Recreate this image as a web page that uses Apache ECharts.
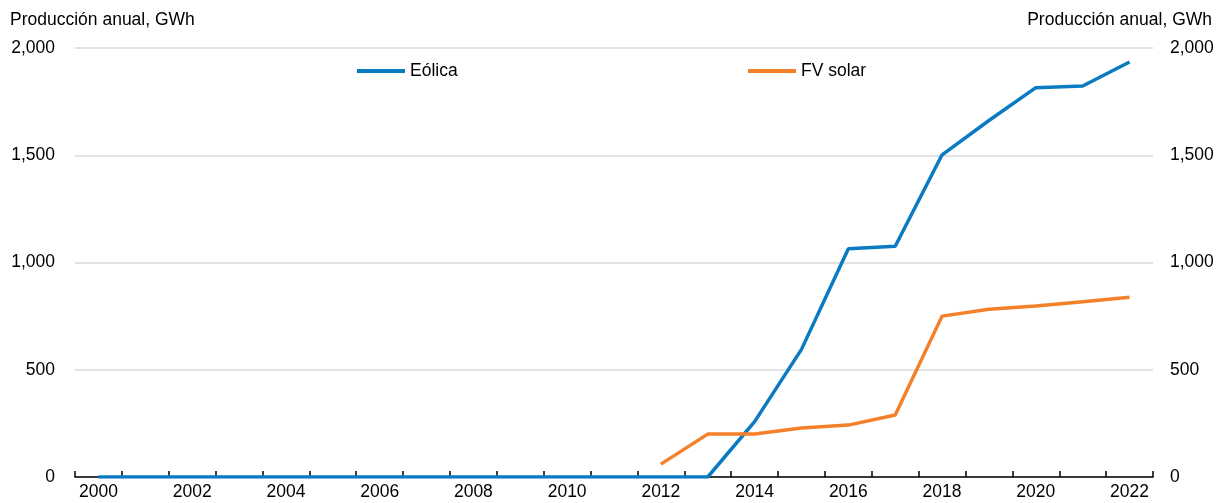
<!DOCTYPE html>
<html>
<head>
<meta charset="utf-8">
<script src="https://cdn.jsdelivr.net/npm/echarts@6/dist/echarts.min.js"></script>
<style>
  html, body { margin: 0; padding: 0; background: #fff; }
  #chart { width: 1218px; height: 503px; }
</style>
</head>
<body>
<div id="chart"></div>
<script>
// Años de la serie
const years = ['2000','2001','2002','2003','2004','2005','2006','2007','2008','2009','2010','2011',
               '2012','2013','2014','2015','2016','2017','2018','2019','2020','2021','2022'];
// Producción anual eólica, GWh
const eolica = [0,0,0,0,0,0,0,0,0,0,0,0,0,0,258,595,1064,1076,1502,1662,1815,1823,1935];
// Producción anual FV solar, GWh (sin datos antes de 2012)
const fvSolar = [null,null,null,null,null,null,null,null,null,null,null,null,
                 60,200,200,228,242,289,750,782,797,817,838];
// Marcas del eje de valores
const yTicks = [0, 500, 1000, 1500, 2000];

const axisTitle = 'Producción anual, GWh';
const font = '"Liberation Sans", Arial, sans-serif';
const FS = 17.5;
const BLUE = '#0a7bc2';
const ORANGE = '#f5802a';
const lineIcon = 'path://M0,0 L48,0 L48,4 L0,4 Z';

const chart = echarts.init(document.getElementById('chart'));

const yCommon = {
  type: 'value',
  min: yTicks[0],
  max: yTicks[yTicks.length - 1],
  interval: 500,
  axisLine: { show: false },
  axisTick: { show: false },
  nameLocation: 'end',
  nameGap: 19,
  nameTextStyle: { fontFamily: font, fontSize: FS, color: '#000' },
  axisLabel: {
    fontFamily: font, fontSize: FS, color: '#000',
    formatter: v => v.toLocaleString('en-US')
  }
};

const legendCommon = {
  top: 57, itemWidth: 48, itemHeight: 4, itemGap: 6,
  icon: lineIcon,
  textStyle: { fontFamily: font, fontSize: FS, color: '#000' }
};

chart.setOption({
  animation: false,
  grid: { left: 75, right: 65, top: 48, bottom: 26, containLabel: false, outerBoundsMode: 'none' },
  legend: [
    Object.assign({}, legendCommon, { data: ['Eólica'], left: 352 }),
    Object.assign({}, legendCommon, { data: ['FV solar'], left: 743 })
  ],
  xAxis: {
    type: 'category',
    data: years,
    boundaryGap: true,
    axisLine: { lineStyle: { color: '#000', width: 1.5 } },
    axisTick: { show: true, inside: true, length: 6, interval: 0, lineStyle: { color: '#000', width: 1.5 } },
    axisLabel: { interval: 1, fontFamily: font, fontSize: FS, color: '#000', margin: 6 },
    splitLine: { show: false }
  },
  yAxis: [
    Object.assign({}, yCommon, {
      position: 'left',
      name: axisTitle,
      nameTextStyle: Object.assign({}, yCommon.nameTextStyle, { align: 'left', padding: [0, 0, 0, -65] }),
      axisLabel: Object.assign({}, yCommon.axisLabel, { margin: 20 }),
      splitLine: { show: true, lineStyle: { color: '#d9d9d9', width: 1.5 } }
    }),
    Object.assign({}, yCommon, {
      position: 'right',
      name: axisTitle,
      nameTextStyle: Object.assign({}, yCommon.nameTextStyle, { align: 'right', padding: [0, -59, 0, 0] }),
      axisLabel: Object.assign({}, yCommon.axisLabel, { margin: 17 }),
      splitLine: { show: false }
    })
  ],
  series: [
    {
      name: 'Eólica', type: 'line', data: eolica, yAxisIndex: 0,
      symbol: 'none', showSymbol: false,
      lineStyle: { color: BLUE, width: 3.5 }, itemStyle: { color: BLUE },
      z: 3
    },
    {
      name: 'FV solar', type: 'line', data: fvSolar, yAxisIndex: 0,
      symbol: 'none', showSymbol: false,
      lineStyle: { color: ORANGE, width: 3.5 }, itemStyle: { color: ORANGE },
      z: 4
    }
  ]
});
</script>
</body>
</html>
